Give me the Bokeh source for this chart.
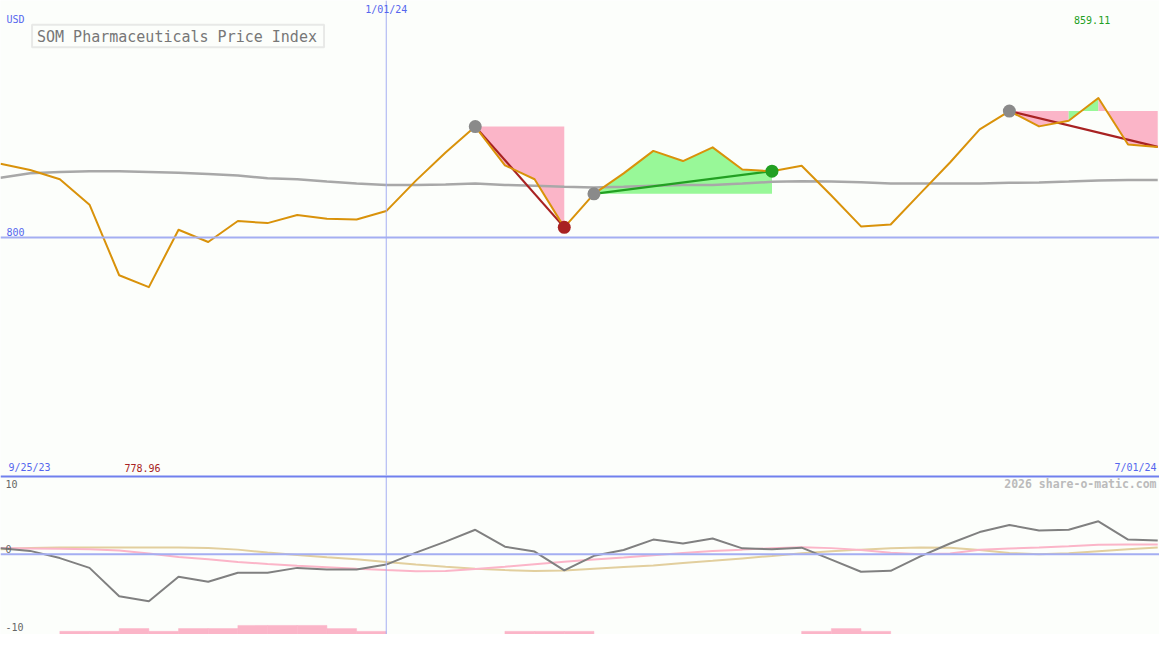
from bokeh.plotting import figure
from bokeh.models import Range1d, Span, Label, BoxAnnotation
from bokeh.layouts import column
from bokeh.embed import file_html
from bokeh.resources import INLINE

# ---------------- data ----------------
dates_start = "9/25/23"
date_mid = "1/01/24"
date_mid_index = 13
dates_end = "7/01/24"
title = "SOM Pharmaceuticals Price Index"
currency = "USD"

price = [831.3, 828.6, 824.7, 813.9, 784.0, 778.96, 803.3, 798.1, 807.0, 806.1,
         809.5, 807.9, 807.6, 811.2, 824.1, 836.0, 847.0, 830.6, 824.7, 804.3,
         818.5, 827.2, 836.7, 832.4, 838.2, 828.8, 828.1, 830.4, 817.8, 804.7,
         805.5, 818.7, 831.8, 845.8, 853.6, 847.1, 849.5, 859.11, 839.4, 838.4]
moving_avg = [825.3, 827.2, 827.8, 828.1, 828.1, 827.8, 827.4, 826.9, 826.3, 825.1,
              824.7, 823.7, 822.9, 822.3, 822.3, 822.5, 822.9, 822.3, 821.9, 821.5,
              821.2, 821.5, 821.9, 822.3, 822.3, 822.9, 823.6, 823.8, 823.7, 823.4,
              822.9, 822.9, 822.9, 822.9, 823.2, 823.3, 823.7, 824.2, 824.4, 824.4]
oscillator = [0.74, 0.42, -0.49, -1.73, -5.31, -5.96, -2.84, -3.49, -2.35, -2.35,
              -1.73, -1.93, -1.93, -1.31, 0.2, 1.6, 3.09, 0.95, 0.33, -2.05,
              -0.2, 0.54, 1.85, 1.36, 1.98, 0.74, 0.62, 0.83, -0.69, -2.22,
              -2.1, -0.28, 1.36, 2.8, 3.7, 3.01, 3.09, 4.16, 1.85, 1.73]
signal_pink = [0.77, 0.73, 0.7, 0.64, 0.46, 0.09, -0.35, -0.65, -0.99, -1.23,
               -1.46, -1.64, -1.83, -2.01, -2.17, -2.14, -1.86, -1.58, -1.27, -0.96,
               -0.68, -0.43, -0.12, 0.15, 0.4, 0.58, 0.77, 0.89, 0.77, 0.52,
               0.17, 0.0, 0.09, 0.56, 0.73, 0.86, 1.01, 1.2, 1.23, 1.23]
signal_tan = [0.64, 0.8, 0.86, 0.86, 0.86, 0.86, 0.86, 0.79, 0.58, 0.21,
              -0.09, -0.38, -0.65, -1.0, -1.3, -1.58, -1.83, -2.01, -2.14, -2.05,
              -1.84, -1.62, -1.42, -1.12, -0.84, -0.53, -0.22, 0.11, 0.37, 0.58,
              0.75, 0.86, 0.83, 0.52, 0.16, 0.01, 0.12, 0.38, 0.62, 0.85]
bar_start = [2, 3, 4, 5, 6, 7, 8, 9, 10, 11, 12, 17, 18, 19, 27, 28, 29]
bar_height = [0.4, 0.4, 0.75, 0.4, 0.75, 0.75, 1.15, 1.15, 1.15, 0.75, 0.4,
              0.4, 0.4, 0.4, 0.4, 0.75, 0.4]
move_start = [16, 20, 34]
move_end = [19, 26, 39]
move_closed = [True, True, False]
price_gridline = 800
osc_ticks = [10, 0, -10]

# ---------------- layout / style ----------------
W, H1, H2 = 1159, 475, 159
SX = W / 1175.0
SY = (H1 + H2) / 650.0
BG = "#fcfefb"
BLUE_TXT = "#5566ee"
GRID_BLUE = "#a4aef2"
FONT = "DejaVu Sans Mono"
PINK = "#fbb5c8"
GREEN_FILL = "#98f898"
ORANGE = "#d9920a"
DARKRED = "#a82222"
GREEN = "#22a022"

x = list(range(len(price)))
x_range = Range1d(0, 39.06)


def base_fig(h, yr):
    p = figure(width=W, height=h, x_range=x_range, y_range=yr,
               output_backend="svg", toolbar_location=None,
               background_fill_color=BG, border_fill_color=BG, min_border=0)
    p.axis.visible = False
    p.grid.visible = False
    p.outline_line_color = None
    return p


def lab(p, text, x, y, color, size=10, align="left", bold=False, xu="screen", yu="screen"):
    p.add_layout(Label(x=x, y=y, x_units=xu, y_units=yu, text=text, text_color=color,
                       text_font=FONT, text_font_size=f"{size}px", text_align=align,
                       text_baseline="middle", text_font_style="bold" if bold else "normal"))


# ---------- top panel ----------
p1 = base_fig(H1, Range1d(699.13, 900.45))


def sy1(yref):
    return (487 - yref) * SY

p1.add_layout(Span(location=price_gridline, dimension="width", line_color=GRID_BLUE, line_width=2))
p1.add_layout(Span(location=date_mid_index, dimension="height", line_color=GRID_BLUE, line_width=1))

# fills between move start level and price, merged into runs of one colour
for s, e in zip(move_start, move_end):
    level = price[s]
    runs = []
    for j in range(s, e):
        color = GREEN_FILL if price[j + 1] >= level else PINK
        if runs and runs[-1][0] == color:
            runs[-1][2] = j + 1
        else:
            runs.append([color, j, j + 1])
    for color, a, b in runs:
        xs = [x[a]] + x[a:b + 1] + [x[b]]
        ys = [level] + price[a:b + 1] + [level]
        p1.patch(xs, ys, fill_color=color, line_color=None)

p1.line(x, moving_avg, line_color="#a8a8a8", line_width=2.5)

for s, e, closed in zip(move_start, move_end, move_closed):
    up = price[e] >= price[s]
    p1.line([x[s], x[e]], [price[s], price[e]], line_color=GREEN if up else DARKRED, line_width=2.2)

p1.line(x, price, line_color=ORANGE, line_width=2, line_join="round")

for s, e, closed in zip(move_start, move_end, move_closed):
    p1.scatter([x[s]], [price[s]], size=13, fill_color="#8a8a8a", line_color=None)
    if closed:
        up = price[e] >= price[s]
        p1.scatter([x[e]], [price[e]], size=13, fill_color=GREEN if up else DARKRED, line_color=None)

# texts
p1.add_layout(BoxAnnotation(left=32 * SX, right=328 * SX, top=sy1(25), bottom=sy1(48),
                            left_units="screen", right_units="screen",
                            top_units="screen", bottom_units="screen",
                            fill_color=BG, fill_alpha=1, line_color="#bbbbbb", line_width=2))
lab(p1, title, 37 * SX, sy1(37), "#777777", size=15)
lab(p1, currency, 6 * SX, sy1(20), BLUE_TXT)
lab(p1, date_mid, date_mid_index, sy1(9), BLUE_TXT, align="center", xu="data")
lab(p1, str(price_gridline), 6 * SX, sy1(237), BLUE_TXT)
lab(p1, f"{max(price):.2f}", 1125 * SX, sy1(20), GREEN, align="right")
lab(p1, f"{min(price):.2f}", 144 * SX, sy1(479), DARKRED, align="center")
lab(p1, dates_start, 8 * SX, sy1(479), BLUE_TXT)
lab(p1, dates_end, 1172 * SX, sy1(479), BLUE_TXT, align="right")

# ---------- bottom panel ----------
ylo, yhi = -10.16, 9.96
p2 = base_fig(H2, Range1d(ylo, yhi))


def sy2(yref):
    return (650 - yref) * SY

p2.quad(left=bar_start, right=[b + 1 for b in bar_start], bottom=ylo,
        top=[ylo + h for h in bar_height], fill_color=PINK, line_color=PINK, line_width=0.5)
p2.add_layout(Span(location=0, dimension="width", line_color=GRID_BLUE, line_width=2))
p2.add_layout(Span(location=date_mid_index, dimension="height", line_color=GRID_BLUE, line_width=1))
p2.line(x, signal_tan, line_color="#e2cf9e", line_width=2)
p2.line(x, signal_pink, line_color="#fbb5c8", line_width=2)
p2.line(x, oscillator, line_color="#808080", line_width=2)
p2.add_layout(Span(location=yhi - 0.08, dimension="width", line_color="#7080ee", line_width=2.5))

lab(p2, str(osc_ticks[0]), 5 * SX, sy2(496), "#666666")
lab(p2, str(osc_ticks[1]), 5 * SX, sy2(562), "#666666")
lab(p2, str(osc_ticks[2]), 5 * SX, sy2(642), "#666666")
lab(p2, "2026 share-o-matic.com", 1172 * SX, sy2(496), "#bbbbbb", size=11.5, align="right", bold=True)

layout = column(p1, p2, spacing=0)
open("out.html", "w").write(file_html(layout, INLINE))
